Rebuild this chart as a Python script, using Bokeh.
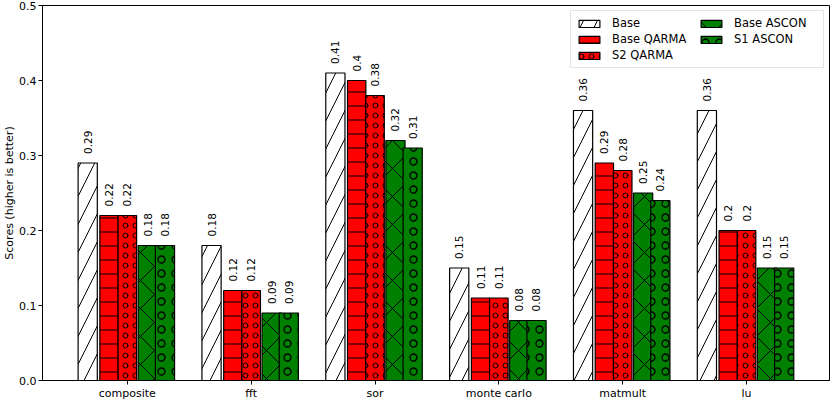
from bokeh.plotting import figure
from bokeh.models import ColumnDataSource, Range1d, FixedTicker, Legend, LegendItem
from bokeh.embed import file_html
from bokeh.resources import INLINE
from bokeh.core.properties import value

categories = ["composite", "fft", "sor", "monte carlo", "matmult", "lu"]
series_names = ["Base", "Base QARMA", "S2 QARMA", "Base ASCON", "S1 ASCON"]
base = [0.29, 0.18, 0.41, 0.15, 0.36, 0.36]
base_qarma = [0.22, 0.12, 0.40, 0.11, 0.29, 0.20]
s2_qarma = [0.22, 0.12, 0.38, 0.11, 0.28, 0.20]
base_ascon = [0.18, 0.09, 0.32, 0.08, 0.25, 0.15]
s1_ascon = [0.18, 0.09, 0.31, 0.08, 0.24, 0.15]
y_ticks = [0.0, 0.1, 0.2, 0.3, 0.4, 0.5]

series_values = [base, base_qarma, s2_qarma, base_ascon, s1_ascon]
offsets = [-0.32, -0.148, 0.0, 0.165, 0.304]
widths = [0.155, 0.148, 0.15, 0.155, 0.155]
fills = ["white", "#ff0000", "#ff0000", "#008000", "#008000"]
hatches = ["/", "-", "o", "x", "o"]
hatch_scales = [28, 14, 10, 28, 14]
hatch_weights = [1.0, 1.0, 1.0, 1.0, 1.3]

FONT = "DejaVu Sans"

p = figure(width=830, height=402, output_backend="svg", toolbar_location=None,
           x_range=Range1d(-0.685, 5.67), y_range=Range1d(0, 0.5),
           min_border_top=5, min_border_right=1, min_border_left=0, min_border_bottom=0)
p.xgrid.visible = False
p.ygrid.visible = False
p.outline_line_color = "black"
p.outline_line_width = 1
p.background_fill_color = "white"

items = []
for name, vals, off, w, fc, h, hs, hw in zip(series_names, series_values, offsets, widths,
                                            fills, hatches, hatch_scales, hatch_weights):
    xs = [i + off for i in range(len(categories))]
    src = ColumnDataSource(dict(x=xs, top=vals, label=[("%g" % v) for v in vals]))
    r = p.vbar(x="x", top="top", bottom=0, width=w, source=src, fill_color=fc,
               line_color="black", line_width=1.2, hatch_pattern=h, hatch_scale=hs,
               hatch_color="black", hatch_weight=hw)
    items.append(LegendItem(label=name, renderers=[r]))
    p.text(x="x", y="top", text="label", source=src, angle=1.5708, y_offset=-9,
           text_align="left", text_baseline="middle", text_font=value(FONT),
           text_font_size="10.5px", text_color="black")

legend = Legend(items=items, location="top_right", ncols=2)
legend.label_text_font = FONT
legend.label_text_font_size = "11.5px"
legend.label_text_color = "black"
legend.glyph_width = 26
legend.glyph_height = 9
legend.label_standoff = 10
legend.label_height = 12
legend.label_width = 84
legend.spacing = 2
legend.padding = 5
legend.margin = 5
legend.border_line_color = "#cccccc"
legend.border_line_width = 1
legend.background_fill_alpha = 0.8
p.add_layout(legend)

p.xaxis.ticker = FixedTicker(ticks=list(range(len(categories))))
p.xaxis.major_label_overrides = {i: c for i, c in enumerate(categories)}
p.yaxis.ticker = FixedTicker(ticks=y_ticks)
p.yaxis.major_label_overrides = {t: "%.1f" % t for t in y_ticks}
p.yaxis.axis_label = "Scores (higher is better)"
for ax in (p.xaxis, p.yaxis):
    ax.axis_line_color = "black"
    ax.major_tick_line_color = "black"
    ax.major_tick_out = 4
    ax.major_tick_in = 0
    ax.minor_tick_line_color = None
    ax.major_label_text_font = FONT
    ax.major_label_text_font_size = "11px"
    ax.major_label_text_color = "black"
    ax.major_label_standoff = 2
    ax.axis_label_text_font = FONT
    ax.axis_label_text_font_size = "11px"
    ax.axis_label_text_font_style = "normal"
    ax.axis_label_text_color = "black"
    ax.axis_label_standoff = 0

open("out.html", "w").write(file_html(p, INLINE))
